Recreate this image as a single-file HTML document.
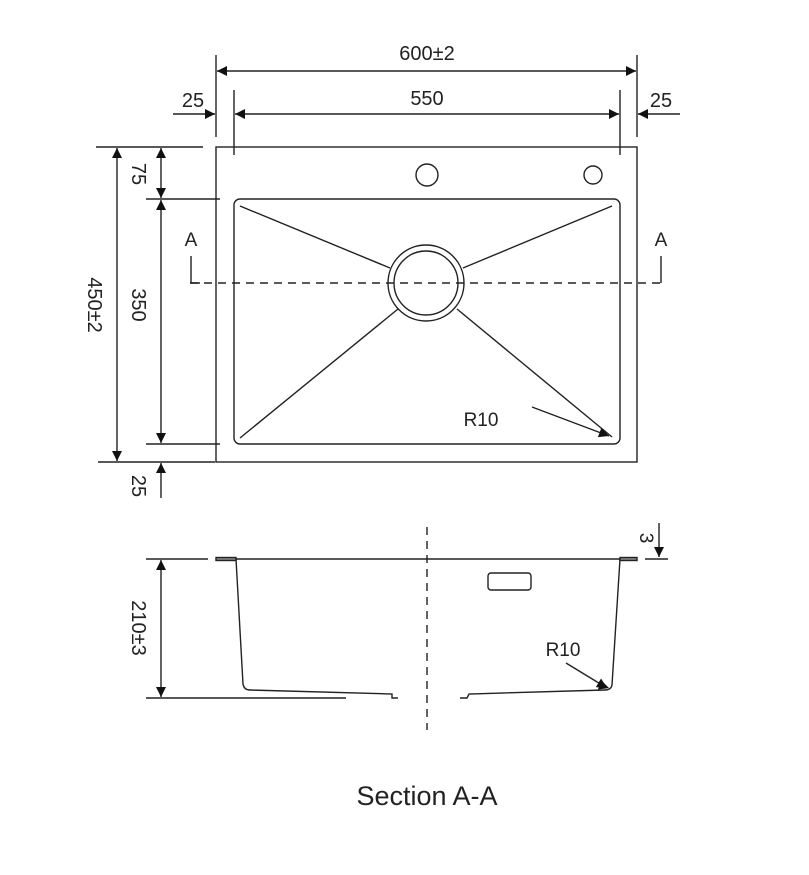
<!DOCTYPE html>
<html><head><style>html,body{margin:0;padding:0;background:#fff}</style></head><body>
<svg width="809" height="870" viewBox="0 0 809 870" xmlns="http://www.w3.org/2000/svg" font-family="Liberation Sans, sans-serif" fill="none" stroke="#222" stroke-width="1.4">
<defs>
<marker id="a" viewBox="0 0 10 10" refX="10" refY="5" markerWidth="12" markerHeight="10" markerUnits="userSpaceOnUse" orient="auto-start-reverse"><path d="M0,0 L10,5 L0,10z" fill="#111" stroke="none"/></marker>
</defs>
<!-- top dims -->
<line x1="216" y1="55" x2="216" y2="137"/>
<line x1="637" y1="55" x2="637" y2="137"/>
<line x1="234" y1="90" x2="234" y2="155"/>
<line x1="620" y1="90" x2="620" y2="155"/>
<line x1="217" y1="71" x2="636" y2="71" marker-start="url(#a)" marker-end="url(#a)"/>
<line x1="235" y1="114" x2="619" y2="114" marker-start="url(#a)" marker-end="url(#a)"/>
<line x1="173" y1="114" x2="215" y2="114" marker-end="url(#a)"/>
<line x1="680" y1="114" x2="638" y2="114" marker-end="url(#a)"/>
<g fill="#222" stroke="none" font-size="20" text-anchor="middle">
<text x="427" y="60">600±2</text>
<text x="427" y="105">550</text>
<text x="193" y="107">25</text>
<text x="661" y="107">25</text>
</g>
<!-- plan -->
<rect x="216" y="147" width="421" height="315"/>
<rect x="234" y="199" width="386" height="245" rx="6"/>
<circle cx="427" cy="175" r="11"/>
<circle cx="593" cy="175" r="9"/>
<circle cx="426" cy="283" r="38"/>
<circle cx="426" cy="283" r="32"/>
<line x1="240" y1="206" x2="390" y2="268"/>
<line x1="612" y1="206" x2="463" y2="268"/>
<line x1="240" y1="438" x2="398" y2="309"/>
<line x1="612" y1="437" x2="457" y2="309"/>
<line x1="190" y1="283" x2="660" y2="283" stroke-dasharray="8,6"/>
<polyline points="191,256 191,283 200,283"/>
<polyline points="661,256 661,283"/>
<line x1="532" y1="407" x2="609" y2="436" marker-end="url(#a)"/>
<g fill="#222" stroke="none" font-size="19" text-anchor="middle">
<text x="191" y="246">A</text>
<text x="661" y="246">A</text>
<text x="481" y="426">R10</text>
</g>
<!-- left dims -->
<line x1="96" y1="147" x2="203" y2="147"/>
<line x1="146" y1="199" x2="220" y2="199"/>
<line x1="146" y1="444" x2="220" y2="444"/>
<line x1="98" y1="462" x2="215" y2="462"/>
<line x1="117" y1="148" x2="117" y2="461" marker-start="url(#a)" marker-end="url(#a)"/>
<line x1="161" y1="148" x2="161" y2="198" marker-start="url(#a)" marker-end="url(#a)"/>
<line x1="161" y1="200" x2="161" y2="443" marker-start="url(#a)" marker-end="url(#a)"/>
<line x1="161" y1="498" x2="161" y2="463" marker-end="url(#a)"/>
<g fill="#222" stroke="none" font-size="20" text-anchor="middle">
<text transform="translate(132,174) rotate(90)">75</text>
<text transform="translate(132,305) rotate(90)">350</text>
<text transform="translate(88,305) rotate(90)">450±2</text>
<text transform="translate(132,486) rotate(90)">25</text>
</g>
<!-- section -->
<line x1="146" y1="559" x2="208" y2="559"/>
<rect x="216" y="557.5" width="20" height="3" fill="#888"/>
<rect x="620" y="557.5" width="17" height="3" fill="#888"/>
<line x1="236" y1="559" x2="620" y2="559"/>
<path d="M236,559 L243,684 Q244,690 250,690 L392,694 L392,698 L398,698"/>
<path d="M620,559 L612,685 Q611,690 605,690 L469,694 L467,698 L460,698"/>
<line x1="146" y1="698" x2="346" y2="698"/>
<rect x="488" y="573" width="43" height="17" rx="3"/>
<line x1="427" y1="527" x2="427" y2="730" stroke-dasharray="8,6"/>
<line x1="161" y1="560" x2="161" y2="697" marker-start="url(#a)" marker-end="url(#a)"/>
<line x1="645" y1="559" x2="668" y2="559"/>
<line x1="659" y1="523" x2="659" y2="557" marker-end="url(#a)"/>
<line x1="530" y1="662" x2="609" y2="688" marker-end="url(#a)" stroke="none"/>
<line x1="566" y1="663" x2="607" y2="688" marker-end="url(#a)"/>
<g fill="#222" stroke="none" font-size="19" text-anchor="middle">
<text transform="translate(132,628) rotate(90)" font-size="20">210±3</text>
<text transform="translate(640,538) rotate(90)">3</text>
<text x="563" y="656">R10</text>
<text x="427" y="805" font-size="27">Section A-A</text>
</g>
</svg>
</body></html>
